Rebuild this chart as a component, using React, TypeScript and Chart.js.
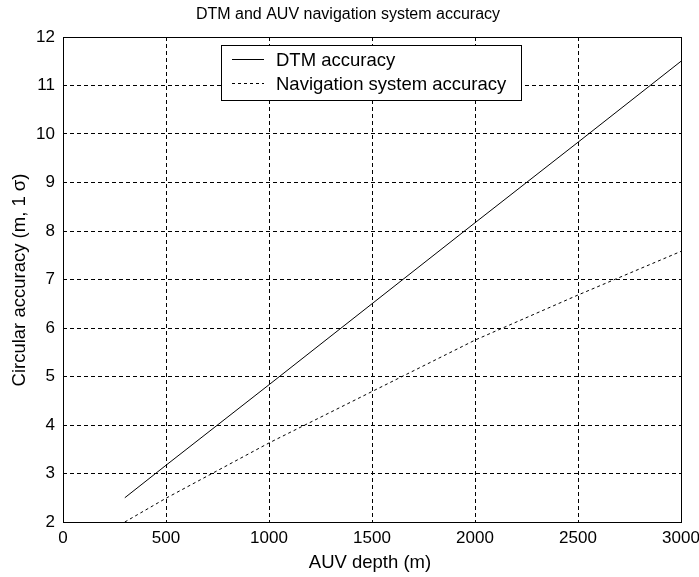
import React, { useEffect, useRef } from "react";
import { Chart, registerables } from "chart.js";

Chart.register(...registerables);

const chartTitle = "DTM and AUV navigation system accuracy";
const xTitle = "AUV depth (m)";
const yTitle = "Circular accuracy (m, 1 σ)";
const seriesNames = ["DTM accuracy", "Navigation system accuracy"];
const depths = [300, 500, 1000, 1500, 2000, 2500, 3000];
const dtmAccuracy = [2.5, 3.17, 4.83, 6.5, 8.17, 9.83, 11.5];
const navAccuracy = [2.0, 2.49, 3.63, 4.69, 5.75, 6.68, 7.58];
const xTicks = [0, 500, 1000, 1500, 2000, 2500, 3000];
const yTicks = [2, 3, 4, 5, 6, 7, 8, 9, 10, 11, 12];

const FONT = '"Liberation Sans", Arial, sans-serif';

const decorPlugin = {
  id: "decor",
  afterDraw(chart: any) {
    const { ctx, chartArea } = chart;
    const { left, right, top, bottom } = chartArea;
    ctx.save();
    ctx.setLineDash([]);
    ctx.strokeStyle = "#000";
    ctx.lineWidth = 1;
    ctx.strokeRect(Math.round(left) + 0.5, Math.round(top) + 0.5, Math.round(right - left), Math.round(bottom - top));
    ctx.fillStyle = "#000";
    ctx.font = `16px ${FONT}`;
    ctx.textAlign = "center";
    ctx.textBaseline = "middle";
    ctx.fillText(chartTitle, 348, 15);
    ctx.font = `18.5px ${FONT}`;
    ctx.fillText(xTitle, 370, 563);
    ctx.save();
    ctx.translate(20, 280);
    ctx.rotate(-Math.PI / 2);
    ctx.fillText(yTitle, 0, 0);
    ctx.restore();
    const bx = 221.5, by = 45.5, bw = 300, bh = 55;
    ctx.fillStyle = "#fff";
    ctx.fillRect(bx, by, bw, bh);
    ctx.strokeStyle = "#000";
    ctx.strokeRect(bx, by, bw, bh);
    const rows = [59.5, 83.5];
    const dashes = [[], [3, 3]];
    rows.forEach((y, i) => {
      ctx.setLineDash(dashes[i]);
      ctx.beginPath();
      ctx.moveTo(232, y);
      ctx.lineTo(264, y);
      ctx.stroke();
      ctx.setLineDash([]);
      ctx.fillStyle = "#000";
      ctx.font = `18.5px ${FONT}`;
      ctx.textAlign = "left";
      ctx.textBaseline = "middle";
      ctx.fillText(seriesNames[i], 276, y + 1);
    });
    ctx.restore();
  },
};

export default function App() {
  const ref = useRef<HTMLCanvasElement | null>(null);
  useEffect(() => {
    document.body.style.margin = "0";
    const canvas = ref.current!;
    const chart = new Chart(canvas, {
      type: "line",
      data: {
        datasets: [
          {
            label: seriesNames[0],
            data: depths.map((d, i) => ({ x: d, y: dtmAccuracy[i] })),
            borderColor: "#000",
            borderWidth: 1,
            pointRadius: 0,
            tension: 0,
            fill: false,
          },
          {
            label: seriesNames[1],
            data: depths.map((d, i) => ({ x: d, y: navAccuracy[i] })),
            borderColor: "#000",
            borderWidth: 1,
            borderDash: [3, 3],
            pointRadius: 0,
            tension: 0,
            fill: false,
          },
        ],
      },
      options: {
        animation: false,
        responsive: false,
        devicePixelRatio: 1,
        layout: { padding: { left: 0, right: 18, top: 37, bottom: 0 } },
        plugins: { legend: { display: false }, title: { display: false }, tooltip: { enabled: false } },
        scales: {
          x: {
            type: "linear",
            min: 0,
            max: 3000,
            afterBuildTicks: (s: any) => {
              s.ticks = xTicks.map((v) => ({ value: v }));
            },
            afterFit: (s: any) => {
              s.height = 55;
              s.paddingLeft = 0;
              s.paddingRight = 0;
            },
            grid: { color: "#000", lineWidth: 1, drawTicks: false },
            border: { display: false, dash: [4, 3] },
            ticks: {
              color: "#000",
              font: { family: FONT, size: 17 },
              padding: 6,
              maxRotation: 0,
              autoSkip: false,
              callback: (v: any) => String(v),
            },
          },
          y: {
            type: "linear",
            min: 2,
            max: 12,
            afterBuildTicks: (s: any) => {
              s.ticks = yTicks.map((v) => ({ value: v }));
            },
            afterFit: (s: any) => {
              s.width = 63;
              s.paddingTop = 0;
              s.paddingBottom = 0;
            },
            grid: { color: "#000", lineWidth: 1, drawTicks: false },
            border: { display: false, dash: [4, 3] },
            ticks: {
              color: "#000",
              font: { family: FONT, size: 17 },
              padding: 8,
              autoSkip: false,
              callback: (v: any) => String(v),
            },
          },
        },
      },
      plugins: [decorPlugin],
    });
    return () => chart.destroy();
  }, []);
  return <canvas ref={ref} width={699} height={577} style={{ display: "block" }} />;
}
